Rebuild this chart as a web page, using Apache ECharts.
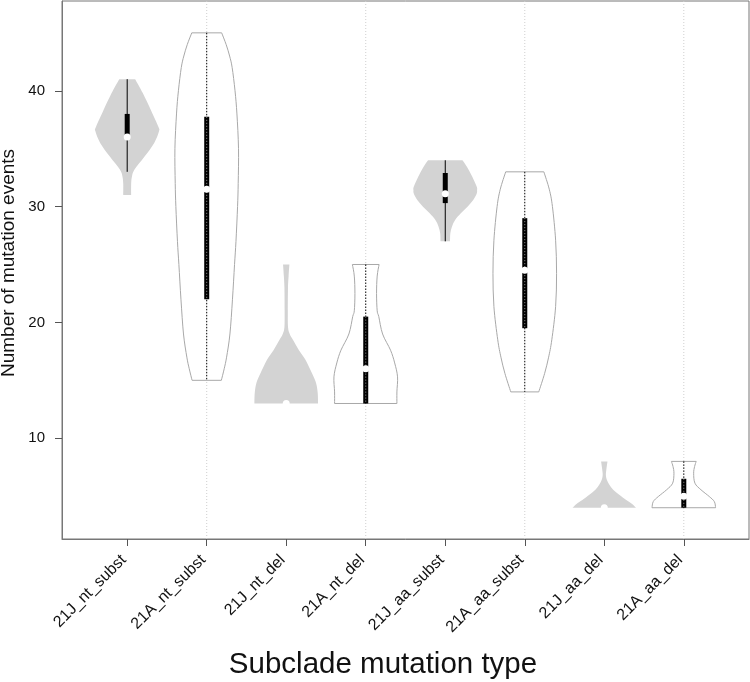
<!DOCTYPE html>
<html>
<head>
<meta charset="utf-8">
<script src="https://cdn.jsdelivr.net/npm/echarts@6/dist/echarts.min.js"></script>
<style>
  html, body { margin: 0; padding: 0; background: #fff; }
  #chart { width: 750px; height: 682px; }
</style>
</head>
<body>
<div id="chart"></div>
<script>
// categories, left to right
const categories = [
  "21J_nt_subst", "21A_nt_subst", "21J_nt_del", "21A_nt_del",
  "21J_aa_subst", "21A_aa_subst", "21J_aa_del", "21A_aa_del"
];

// box plot stats
const q1 = [36, 22, 13, 13, 30.3, 19.5, 4, 4];
const q3 = [38, 37.75, 13, 20.5, 32.9, 29, 4, 6.5];
const medians = [36, 31.5, 13, 16, 31.1, 24.5, 4, 5];
const whiskerLow = [33, 15, 13, 13, 27, 14, 4, 4];
const whiskerHigh = [41, 45, 13, 25, 34, 33, 4, 8];

// violin outlines: y levels (top to bottom) and relative density (1 = widest)
const profileY = [
  [41, 39.8, 38.3, 36.9, 36.5, 35.5, 34.3, 33.2, 32.6, 32, 31],
  [45, 44, 43, 42, 40, 38, 35, 32, 30, 27, 25, 22, 19, 17, 16, 15],
  [25, 24, 23, 21, 19.6, 19, 18.5, 17.6, 16.8, 15.6, 14.75, 13.9, 13],
  [25, 24, 22.5, 21, 20.5, 19, 17.6, 16.5, 15.3, 14, 13],
  [34, 33.44, 32.58, 31.71, 31.4, 31.14, 30.57, 29.99, 29.42, 28.84, 28.26, 27.69, 27],
  [33, 31.5, 30, 27.1, 24.24, 21.36, 18.5, 17, 15.6, 14],
  [8, 7.41, 6.84, 6.41, 5.98, 5.55, 5.12, 4.67, 4.33, 4],
  [8, 7.56, 6.98, 6.12, 5.55, 4.97, 4.53, 4]
];
const profileDensity = [
  [0.25, 0.49, 0.75, 0.98, 1.0, 0.85, 0.54, 0.23, 0.15, 0.125, 0.125],
  [0.47, 0.61, 0.72, 0.8, 0.89, 0.95, 1.0, 0.99, 0.97, 0.92, 0.875, 0.81, 0.73, 0.625, 0.55, 0.46],
  [0.1, 0.075, 0.056, 0.05, 0.056, 0.11, 0.21, 0.4, 0.6, 0.81, 0.94, 0.99, 1.0],
  [0.42, 0.36, 0.34, 0.36, 0.41, 0.53, 0.78, 0.91, 1.0, 0.98, 0.98],
  [0.54, 0.68, 0.85, 0.99, 1.0, 0.99, 0.88, 0.7, 0.49, 0.31, 0.21, 0.16, 0.15],
  [0.6, 0.77, 0.87, 0.97, 1.0, 0.97, 0.85, 0.75, 0.625, 0.44],
  [0.1, 0.07, 0.05, 0.08, 0.16, 0.28, 0.47, 0.69, 0.875, 1.0],
  [0.39, 0.34, 0.31, 0.35, 0.54, 0.8, 0.96, 1.0]
];

const yTicks = [10, 20, 30, 40];

const chart = echarts.init(document.getElementById("chart"));
const font = "Liberation Sans, Arial, sans-serif";
const halfWidth = 0.4; // widest half-violin, in x units

// smooth curve through pixel points (catmull-rom as cubic beziers)
function curveThrough(pts) {
  let d = "";
  for (let k = 0; k < pts.length - 1; k++) {
    const p0 = pts[Math.max(k - 1, 0)];
    const p1 = pts[k];
    const p2 = pts[k + 1];
    const p3 = pts[Math.min(k + 2, pts.length - 1)];
    const c1 = [p1[0] + (p2[0] - p0[0]) / 6, p1[1] + (p2[1] - p0[1]) / 6];
    const c2 = [p2[0] - (p3[0] - p1[0]) / 6, p2[1] - (p3[1] - p1[1]) / 6];
    d += " C" + c1[0] + " " + c1[1] + " " + c2[0] + " " + c2[1] + " " + p2[0] + " " + p2[1];
  }
  return d;
}

function renderViolin(params, api) {
  const i = api.value(0) - 1;
  const xc = i + 1;
  const isA = i % 2 === 1;
  const cs = params.coordSys;
  const ys = profileY[i];
  const ds = profileDensity[i];

  const right = ys.map((y, k) => api.coord([xc + ds[k] * halfWidth, y]));
  const left = ys.map((y, k) => api.coord([xc - ds[k] * halfWidth, y])).reverse();
  const cx = api.coord([xc, 0])[0];

  const pathData = "M" + left[left.length - 1][0] + " " + left[left.length - 1][1] +
    " L" + right[0][0] + " " + right[0][1] + curveThrough(right) +
    " L" + left[0][0] + " " + left[0][1] + curveThrough(left) + " Z";

  const children = [];
  if (isA) {
    // light dotted guide through the 21A violins
    children.push({
      type: "line",
      shape: { x1: cx, y1: cs.y, x2: cx, y2: cs.y + cs.height },
      style: { stroke: "#cfcfcf", lineWidth: 1, lineDash: [1, 2] }
    });
  }
  children.push({
    type: "path",
    shape: { pathData: pathData },
    style: isA
      ? { fill: "#fff", stroke: "#a8a8a8", lineWidth: 1 }
      : { fill: "#d3d3d3", stroke: null }
  });

  const wLo = api.coord([xc, whiskerLow[i]])[1];
  const wHi = api.coord([xc, whiskerHigh[i]])[1];
  if (wLo - wHi > 0.5) {
    children.push({
      type: "line",
      shape: { x1: cx, y1: wHi, x2: cx, y2: wLo },
      style: { stroke: "#000", lineWidth: 1, lineDash: isA ? [1.5, 1.5] : null }
    });
  }

  const bTop = api.coord([xc, q3[i]])[1];
  const bBot = api.coord([xc, q1[i]])[1];
  if (bBot - bTop > 0.5) {
    children.push({
      type: "rect",
      shape: { x: cx - 2.5, y: bTop, width: 5, height: bBot - bTop },
      style: { fill: "#000" }
    });
    if (isA) {
      children.push({
        type: "line",
        shape: { x1: cx, y1: bTop, x2: cx, y2: bBot },
        style: { stroke: "#9a9a9a", lineWidth: 1, lineDash: [1, 2] }
      });
    }
  }

  const med = api.coord([xc, medians[i]]);
  children.push({
    type: "circle",
    shape: { cx: cx, cy: med[1], r: 3.5 },
    style: { fill: "#fff" }
  });

  return { type: "group", children: children };
}

const option = {
  animation: false,
  textStyle: { fontFamily: font },
  grid: {
    left: 62, right: 1, top: 1, bottom: 143,
    containLabel: false,
    outerBoundsMode: "none",
    show: true, borderColor: "#777", borderWidth: 1
  },
  xAxis: {
    type: "value",
    min: 0.18,
    max: 8.82,
    splitLine: { show: false },
    axisLine: { lineStyle: { color: "#777" } },
    axisTick: {
      customValues: categories.map((c, i) => i + 1),
      length: 7,
      lineStyle: { color: "#555" }
    },
    axisLabel: {
      customValues: categories.map((c, i) => i + 1),
      formatter: v => categories[Math.round(v) - 1],
      rotate: 45,
      margin: 15,
      padding: [0, 5, 0, 0],
      fontSize: 16,
      color: "#111",
      fontFamily: font
    }
  },
  yAxis: {
    type: "value",
    min: 1.3,
    max: 47.75,
    splitLine: { show: false },
    axisLine: { show: true, lineStyle: { color: "#777" } },
    axisTick: { customValues: yTicks, length: 7, lineStyle: { color: "#555" } },
    axisLabel: {
      customValues: yTicks,
      margin: 17,
      fontSize: 15,
      color: "#111",
      fontFamily: font
    }
  },
  graphic: [{
    type: "text",
    x: 383,
    y: 665,
    style: {
      text: "Subclade mutation type",
      font: "29.5px " + font,
      fill: "#111",
      textAlign: "center",
      textVerticalAlign: "middle"
    }
  }, {
    type: "text",
    x: 9,
    y: 263,
    rotation: Math.PI / 2,
    style: {
      text: "Number of mutation events",
      font: "19px " + font,
      fill: "#111",
      textAlign: "center",
      textVerticalAlign: "middle"
    }
  }],
  series: [{
    type: "custom",
    renderItem: renderViolin,
    data: categories.map((c, i) => [i + 1]),
    encode: { x: 0 },
    clip: false
  }]
};

chart.setOption(option);
window.addEventListener("resize", () => chart.resize());
</script>
</body>
</html>
